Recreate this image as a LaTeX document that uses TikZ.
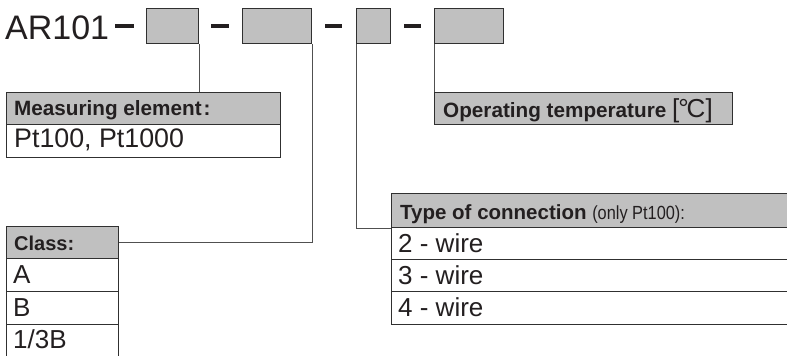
\documentclass[tikz,border=0pt]{standalone}
\usepackage{fontspec}
\setmainfont{Liberation Sans}
\newfontfamily\narrowfont[FakeStretch=0.86]{Liberation Sans}
\definecolor{hdr}{HTML}{C0C0C0}
\definecolor{boxc}{HTML}{303030}
\definecolor{linec}{HTML}{505050}
\definecolor{ink}{HTML}{231F20}
\newcommand{\fsz}[1]{\fontsize{#1}{#1}\selectfont}
\begin{document}
\begin{tikzpicture}[x=1pt,y=-1pt,
  gbox/.style={draw=boxc, line width=1.2pt, fill=hdr, inner sep=0pt, anchor=north west},
  cell/.style={draw=boxc, line width=1.1pt, fill=white, inner sep=0pt, anchor=north west},
  txt/.style={anchor=base west, inner sep=0pt, text=ink},
  conn/.style={draw=linec, line width=1pt},
  dashbar/.style={draw=ink, line width=3.5pt}]
\useasboundingbox (0,0) rectangle (787,356);
\clip (0,0) rectangle (787,356);
% code boxes
\node[txt] (code) at (5,39) {\fsz{34}AR101};
\node[gbox, minimum width=52pt, minimum height=35pt] (b1) at (146,8) {};
\node[gbox, minimum width=69pt, minimum height=35pt] (b2) at (242,8) {};
\node[gbox, minimum width=34pt, minimum height=35pt] (b3) at (356,8) {};
\node[gbox, minimum width=69pt, minimum height=35pt] (b4) at (434,8) {};
\draw[dashbar] (115,26) -- (134,26);
\draw[dashbar] (211,26) -- (229,26);
\draw[dashbar] (325,26) -- (342,26);
\draw[dashbar] (404,26) -- (421,26);
% measuring element
\node[gbox, minimum width=274pt, minimum height=32pt] (mh) at (6,92) {};
\node[cell, minimum width=274pt, minimum height=33pt] (mr) at (6,124) {};
\node[txt] (mht) at (14,115) {\fsz{20.7}\bfseries Measuring element\kern2pt:};
\node[txt] (mrt) at (14,147) {\fsz{26.8}Pt100, Pt1000};
% operating temperature
\node[gbox, minimum width=298pt, minimum height=32pt] (oh) at (434,92) {};
\node[txt] (oht) at (443,117) {\fsz{20.7}\bfseries Operating temperature\ \fsz{26}\mdseries[\kern-1pt°\kern-2ptC]};
% class
\node[gbox, minimum width=112pt, minimum height=32pt] (ch) at (6,226) {};
\node[cell, minimum width=112pt, minimum height=33pt] (c1) at (6,258) {};
\node[cell, minimum width=112pt, minimum height=33pt] (c2) at (6,291) {};
\node[cell, minimum width=112pt, minimum height=40pt] (c3) at (6,324) {};
\node[txt] (cht) at (14,250) {\fsz{20}\bfseries Class:};
\node[txt] (c1t) at (13,283.5) {\fsz{26}A};
\node[txt] (c2t) at (13,316.5) {\fsz{26}B};
\node[txt] (c3t) at (13,348) {\fsz{26}1/3B};
% type of connection
\node[gbox, minimum width=420pt, minimum height=34pt] (th) at (391,193) {};
\node[cell, minimum width=420pt, minimum height=32pt] (t1) at (391,227) {};
\node[cell, minimum width=420pt, minimum height=32pt] (t2) at (391,259) {};
\node[cell, minimum width=420pt, minimum height=33pt] (t3) at (391,291) {};
\node[txt] (tht) at (400,219) {\fsz{20.5}\bfseries Type of connection\ \narrowfont\fsz{19}\mdseries(only Pt100):};
\node[txt] (t1t) at (398,252) {\fsz{26}2 - wire};
\node[txt] (t2t) at (398,284) {\fsz{26}3 - wire};
\node[txt] (t3t) at (398,316) {\fsz{26}4 - wire};
% connectors
\draw[conn] (b1.south east) -- (b1.south east |- mh.north);
\draw[conn] (b2.south east) |- (ch.east);
\draw[conn] (b3.south west) |- (th.south west);
\draw[conn] (b4.south west) -- (oh.north west);
\end{tikzpicture}
\end{document}
